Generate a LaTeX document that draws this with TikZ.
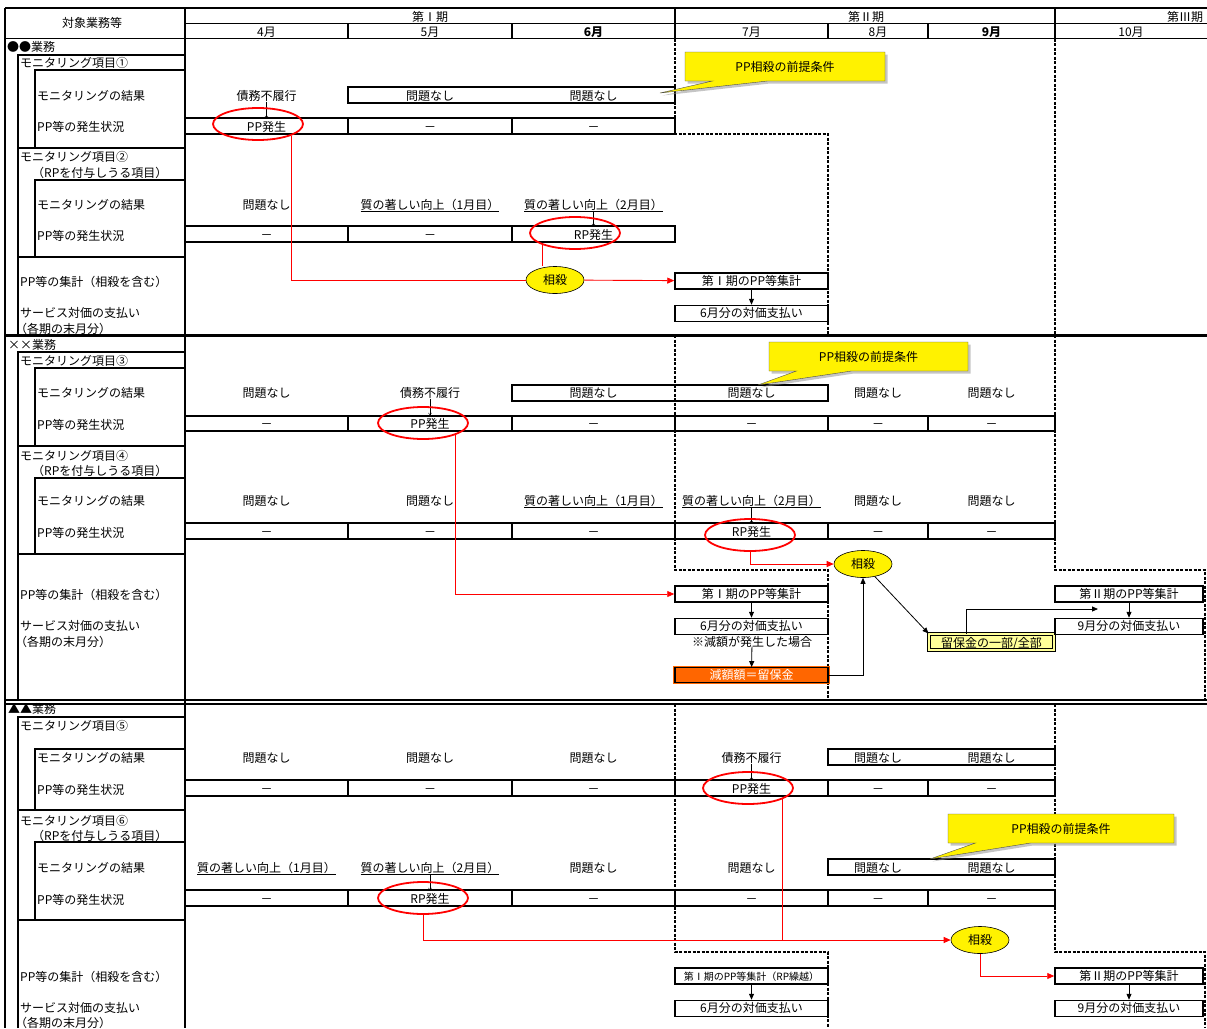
\documentclass[tikz,border=0pt]{standalone}
\usepackage{fontspec}
\setmainfont{Noto Sans CJK JP}
\usetikzlibrary{arrows.meta, shapes.geometric, shapes.callouts, shadows}
\usetikzlibrary{positioning}
\usepackage{xcolor}
\definecolor{orng}{RGB}{255,102,0}
\definecolor{lemon}{RGB}{255,255,153}

\begin{document}
\begin{tikzpicture}[x={(1pt,0)}, y={(0,-1pt)},
    font=\fontsize{12}{14}\selectfont,
    every node/.style={inner sep=0pt},
    tbl/.style={line width=1.5pt},
    fat/.style={line width=2.6pt},
    dsh/.style={line width=1.2pt, dash pattern=on 3pt off 1.5pt},
    cell/.style={text height=10.5pt, text depth=0.5pt},
    lab/.style={cell, anchor=west},
    ring/.style={ellipse, draw=red, line width=1.8pt, minimum width=90pt, minimum height=32pt},
    sosai/.style={ellipse, draw=black, line width=0.6pt, fill=yellow, minimum width=58pt, minimum height=27pt},
    sumbox/.style={text height=9pt, text depth=1pt, draw, fill=white, line width=1.5pt, minimum width=153pt, minimum height=16pt},
    rline/.style={red, line width=0.9pt},
    rarrow/.style={rline, -{Triangle[length=7pt, width=6pt]}},
    barrow/.style={line width=0.8pt, -{Triangle[length=6pt, width=5pt]}},
    tick/.style={line width=0.4pt, -{Straight Barb[length=2pt, width=3pt]}, shorten <=1pt, shorten >=2pt},
    note/.style={rectangle callout, fill=yellow, draw=black!70, line width=0.4pt, minimum height=29pt,
        callout pointer width=55pt, drop shadow={shadow xshift=2.5pt, shadow yshift=-2.5pt, fill=black!45}}]
\useasboundingbox (0,0) rectangle (1207,1028);

% header and frame
\draw[tbl] (5,8) -- (1207,8);
\draw[tbl] (185,23.5) -- (1207,23.5);
\draw[tbl] (5,38.5) -- (1207,38.5);
\draw[tbl] (5,8) -- (5,1028);
\draw[tbl] (185,8) -- (185,1028);
\draw[tbl] (675,8) -- (675,38.5);
\draw[tbl] (1055,8) -- (1055,38.5);
\draw[tbl] (348,23.5) -- (348,38.5);
\draw[tbl] (512,23.5) -- (512,38.5);
\draw[tbl] (828,23.5) -- (828,38.5);
\draw[tbl] (928,23.5) -- (928,38.5);
\draw[line width=3pt] (5,335) -- (1207,335);
\draw[line width=1.3pt] (5,700) -- (1207,700);
\draw[line width=1.3pt] (5,704) -- (1207,704);

% label column
\draw[tbl] (18,55) rectangle (185,335);
\draw[tbl] (35,70) rectangle (185,148);
\draw[tbl] (18,148) -- (185,148);
\draw[tbl] (35,180) rectangle (185,257);
\draw[tbl] (18,257) -- (185,257);
\draw[tbl] (18,352) rectangle (185,700);
\draw[tbl] (35,368) rectangle (185,446);
\draw[tbl] (18,446) -- (185,446);
\draw[tbl] (35,478) rectangle (185,554);
\draw[tbl] (18,554) -- (185,554);
\draw[tbl] (18,1028) -- (18,717) -- (185,717);
\draw[tbl] (35,749) rectangle (185,810);
\draw[tbl] (18,810) -- (185,810);
\draw[tbl] (35,842) rectangle (185,920);
\draw[tbl] (18,920) -- (185,920);

% occurrence rows
\draw[tbl] (185,118) rectangle (675,134);
\draw[tbl] (348,118) -- (348,134);
\draw[tbl] (512,118) -- (512,134);
\draw[tbl] (185,226) rectangle (675,242);
\draw[tbl] (348,226) -- (348,242);
\draw[tbl] (512,226) -- (512,242);
\draw[tbl] (185,416) rectangle (1055,431);
\draw[tbl] (348,416) -- (348,431);
\draw[tbl] (512,416) -- (512,431);
\draw[tbl] (675,416) -- (675,431);
\draw[tbl] (828,416) -- (828,431);
\draw[tbl] (928,416) -- (928,431);
\draw[tbl] (185,523) rectangle (1055,539);
\draw[tbl] (348,523) -- (348,539);
\draw[tbl] (512,523) -- (512,539);
\draw[tbl] (675,523) -- (675,539);
\draw[tbl] (828,523) -- (828,539);
\draw[tbl] (928,523) -- (928,539);
\draw[tbl] (185,780) rectangle (1055,796);
\draw[tbl] (348,780) -- (348,796);
\draw[tbl] (512,780) -- (512,796);
\draw[tbl] (675,780) -- (675,796);
\draw[tbl] (828,780) -- (828,796);
\draw[tbl] (928,780) -- (928,796);
\draw[tbl] (185,890) rectangle (1055,906);
\draw[tbl] (348,890) -- (348,906);
\draw[tbl] (512,890) -- (512,906);
\draw[tbl] (675,890) -- (675,906);
\draw[tbl] (828,890) -- (828,906);
\draw[tbl] (928,890) -- (928,906);

\draw[fat] (348,87) rectangle (675,103);
\draw[fat] (512,385) rectangle (828,401);
\draw[fat] (828,749) rectangle (1055,765);
\draw[fat] (828,859) rectangle (1055,875);

% period borders
\draw[dsh] (675,38.5) -- (675,134) -- (828,134) -- (828,335);
\draw[dsh] (1055,38.5) -- (1055,335);
\draw[dsh] (675,335) -- (675,570) -- (828,570) -- (828,700);
\draw[dsh] (1055,335) -- (1055,570) -- (1205,570) -- (1205,700);
\draw[dsh] (675,704) -- (675,952) -- (828,952) -- (828,1028);
\draw[dsh] (1055,704) -- (1055,952) -- (1205,952) -- (1205,1028);

% header texts
\node[cell] (hdr) at (92,22) {対象業務等};
\node[cell] (per1) at (430,16) {第Ⅰ期};
\node[cell] (per2) at (866,16) {第Ⅱ期};
\node[cell] (per3) at (1185,16) {第Ⅲ期};
\node[cell] (m4) at (266.5,31) {4月};
\node[cell] (m5) at (430,31) {5月};
\node[cell] (m6) at (593.5,31) {\bfseries 6月};
\node[cell] (m7) at (751.5,31) {7月};
\node[cell] (m8) at (878,31) {8月};
\node[cell] (m9) at (991.5,31) {\bfseries 9月};
\node[cell] (m10) at (1131,31) {10月};

% labels
\node[lab] (s1) at (7,46) {●●業務};
\node[lab] (s1i1) at (20,62) {モニタリング項目①};
\node[lab] (s1r1) at (37,95) {モニタリングの結果};
\node[lab] (s1o1) at (37,126) {PP等の発生状況};
\node[lab] (s1i2) at (20,156) {モニタリング項目②};
\node[lab] (s1n2) at (32,172) {（RPを付与しうる項目）};
\node[lab] (s1r2) at (37,204) {モニタリングの結果};
\node[lab] (s1o2) at (37,235) {PP等の発生状況};
\node[lab] (s1sum) at (20,281) {PP等の集計（相殺を含む）};
\node[lab] (s1pay) at (20,312) {サービス対価の支払い};
\node[lab] (s1per) at (15,328) {（各期の末月分）};

\node[lab] (s2) at (8,344) {××業務};
\node[lab] (s2i3) at (20,360) {モニタリング項目③};
\node[lab] (s2r3) at (37,392) {モニタリングの結果};
\node[lab] (s2o3) at (37,424) {PP等の発生状況};
\node[lab] (s2i4) at (20,455) {モニタリング項目④};
\node[lab] (s2n4) at (32,470) {（RPを付与しうる項目）};
\node[lab] (s2r4) at (37,500) {モニタリングの結果};
\node[lab] (s2o4) at (37,532) {PP等の発生状況};
\node[lab] (s2sum) at (20,594) {PP等の集計（相殺を含む）};
\node[lab] (s2pay) at (20,625) {サービス対価の支払い};
\node[lab] (s2per) at (15,641) {（各期の末月分）};

\node[lab] (s3) at (8,708) {▲▲業務};
\node[lab] (s3i5) at (20,725) {モニタリング項目⑤};
\node[lab] (s3r5) at (37,757) {モニタリングの結果};
\node[lab] (s3o5) at (37,789) {PP等の発生状況};
\node[lab] (s3i6) at (20,820) {モニタリング項目⑥};
\node[lab] (s3n6) at (32,835) {（RPを付与しうる項目）};
\node[lab] (s3r6) at (37,867) {モニタリングの結果};
\node[lab] (s3o6) at (37,899) {PP等の発生状況};
\node[lab] (s3sum) at (20,976) {PP等の集計（相殺を含む）};
\node[lab] (s3pay) at (20,1007) {サービス対価の支払い};
\node[lab] (s3per) at (15,1022) {（各期の末月分）};

% section 1
\node[cell] (a1) at (266.5,95) {債務不履行};
\node[cell] (a2) at (430,95) {問題なし};
\node[cell] (a3) at (593.5,95) {問題なし};
\node[cell] (b1) at (266.5,126) {PP発生};
\node[cell] (b2) at (430,126) {－};
\node[cell] (b3) at (593.5,126) {－};
\node[cell] (c1) at (266.5,204) {問題なし};
\node[cell] (c2) at (430,204) {\underline{質の著しい向上（1月目）}};
\node[cell] (c3) at (593.5,204) {\underline{質の著しい向上（2月目）}};
\node[cell] (d1) at (266.5,234) {－};
\node[cell] (d2) at (430,234) {－};
\node[cell] (d3) at (593.5,234) {RP発生};
\draw[tick] (a1) -- (b1);
\draw[tick] (c3) -- (d3);
\node[ring] (pp1) at (258,124) {};
\node[ring] (rp1) at (575,233) {};
\node[sosai] (ss1) at (555,280) {相殺};
\node[sumbox] (sum1a) at (751.5,281) {第Ⅰ期のPP等集計};
\node[sumbox, below=15pt of sum1a] (pay1a) {6月分の対価支払い};
\draw[rline] (pp1.-19) |- (ss1);
\draw[rline] (rp1.-160) -- (rp1.-160 |- ss1.north);
\draw[rarrow] (ss1) -- (sum1a);
\draw[barrow] (sum1a) -- (pay1a);
\node[note, minimum width=200pt, callout absolute pointer={(660,93)}] (cb1) at (785,66.5) {PP相殺の前提条件};

% section 2
\node[cell] (e1) at (266.5,392) {問題なし};
\node[cell] (e2) at (430,392) {債務不履行};
\node[cell] (e3) at (593.5,392) {問題なし};
\node[cell] (e4) at (751.5,392) {問題なし};
\node[cell] (e5) at (878,392) {問題なし};
\node[cell] (e6) at (991.5,392) {問題なし};
\node[cell] (f1) at (266.5,423) {－};
\node[cell] (f2) at (430,423) {PP発生};
\node[cell] (f3) at (593.5,423) {－};
\node[cell] (f4) at (751.5,423) {－};
\node[cell] (f5) at (878,423) {－};
\node[cell] (f6) at (991.5,423) {－};
\node[cell] (g1) at (266.5,500) {問題なし};
\node[cell] (g2) at (430,500) {問題なし};
\node[cell] (g3) at (593.5,500) {\underline{質の著しい向上（1月目）}};
\node[cell] (g4) at (751.5,500) {\underline{質の著しい向上（2月目）}};
\node[cell] (g5) at (878,500) {問題なし};
\node[cell] (g6) at (991.5,500) {問題なし};
\node[cell] (h1) at (266.5,531) {－};
\node[cell] (h2) at (430,531) {－};
\node[cell] (h3) at (593.5,531) {－};
\node[cell] (h4) at (751.5,531) {RP発生};
\node[cell] (h5) at (878,531) {－};
\node[cell] (h6) at (991.5,531) {－};
\draw[tick] (e2) -- (f2);
\draw[tick] (g4) -- (h4);
\node[ring] (pp2) at (423,423) {};
\node[ring] (rp2) at (750,535) {};
\node[sosai] (ss2) at (863,564) {相殺};
\node[sumbox] (sum2a) at (751.5,594) {第Ⅰ期のPP等集計};
\node[sumbox, below=15pt of sum2a] (pay2a) {6月分の対価支払い};
\node[cell] (note2) at (752,641) {※減額が発生した場合};
\node[sumbox, fill=orng, text=white, draw=orng, line width=0.8pt, double=black, double distance=1.6pt, minimum height=15pt] (gen2) at (751.5,675) {減額額＝留保金};
\node[cell, draw=black, fill=lemon, line width=1pt, double=lemon, double distance=1.4pt, minimum width=125pt, minimum height=16pt] (ryu2) at (991.5,642) {留保金の一部/全部};
\node[sumbox, minimum width=148pt] (sum2c) at (1129,594) {第Ⅱ期のPP等集計};
\node[sumbox, minimum width=148pt, below=15pt of sum2c] (pay2c) {9月分の対価支払い};
\coordinate (aim2) at (1098,609);
\draw[rarrow] (pp2.-20) |- (sum2a);
\draw[rarrow] (rp2.south) |- (ss2);
\draw[barrow] (sum2a) -- (pay2a);
\draw[barrow] (note2) -- (gen2);
\draw[barrow] (gen2) -| (ss2);
\draw[barrow] (ss2) -- (ryu2.north west);
\draw[barrow] ([xshift=-25.5pt]ryu2.north) |- (aim2);
\draw[barrow] (sum2c) -- (pay2c);
\node[note, minimum width=199pt, callout absolute pointer={(758,385)}] (cb2) at (868.5,356.5) {PP相殺の前提条件};

% section 3
\node[cell] (k1) at (266.5,757) {問題なし};
\node[cell] (k2) at (430,757) {問題なし};
\node[cell] (k3) at (593.5,757) {問題なし};
\node[cell] (k4) at (751.5,757) {債務不履行};
\node[cell] (k5) at (878,757) {問題なし};
\node[cell] (k6) at (991.5,757) {問題なし};
\node[cell] (l1) at (266.5,788) {－};
\node[cell] (l2) at (430,788) {－};
\node[cell] (l3) at (593.5,788) {－};
\node[cell] (l4) at (751.5,788) {PP発生};
\node[cell] (l5) at (878,788) {－};
\node[cell] (l6) at (991.5,788) {－};
\node[cell] (n1) at (266.5,867) {\underline{質の著しい向上（1月目）}};
\node[cell] (n2) at (430,867) {\underline{質の著しい向上（2月目）}};
\node[cell] (n3) at (593.5,867) {問題なし};
\node[cell] (n4) at (751.5,867) {問題なし};
\node[cell] (n5) at (878,867) {問題なし};
\node[cell] (n6) at (991.5,867) {問題なし};
\node[cell] (o1) at (266.5,898) {－};
\node[cell] (o2) at (430,898) {RP発生};
\node[cell] (o3) at (593.5,898) {－};
\node[cell] (o4) at (751.5,898) {－};
\node[cell] (o5) at (878,898) {－};
\node[cell] (o6) at (991.5,898) {－};
\draw[tick] (k4) -- (l4);
\draw[tick] (n2) -- (o2);
\node[ring] (pp3) at (748,788) {};
\node[ring] (rp3) at (423,898) {};
\node[sosai] (ss3) at (980,940) {相殺};
\node[sumbox, font=\fontsize{10}{12}\selectfont] (sum3a) at (751.5,976) {第Ⅰ期のPP等集計（RP繰越）};
\node[sumbox, below=15pt of sum3a] (pay3a) {6月分の対価支払い};
\node[sumbox, minimum width=148pt] (sum3c) at (1129,976) {第Ⅱ期のPP等集計};
\node[sumbox, minimum width=148pt, below=15pt of sum3c] (pay3c) {9月分の対価支払い};
\draw[rline] (pp3.-18) -- (pp3.-18 |- ss3);
\draw[rarrow] (rp3.south) |- (ss3);
\draw[rarrow] (ss3) |- (sum3c);
\draw[barrow] (sum3a) -- (pay3a);
\draw[barrow] (sum3c) -- (pay3c);
\node[note, minimum width=226pt, callout absolute pointer={(930,859)}] (cb3) at (1061,828.5) {PP相殺の前提条件};
\end{tikzpicture}
\end{document}
